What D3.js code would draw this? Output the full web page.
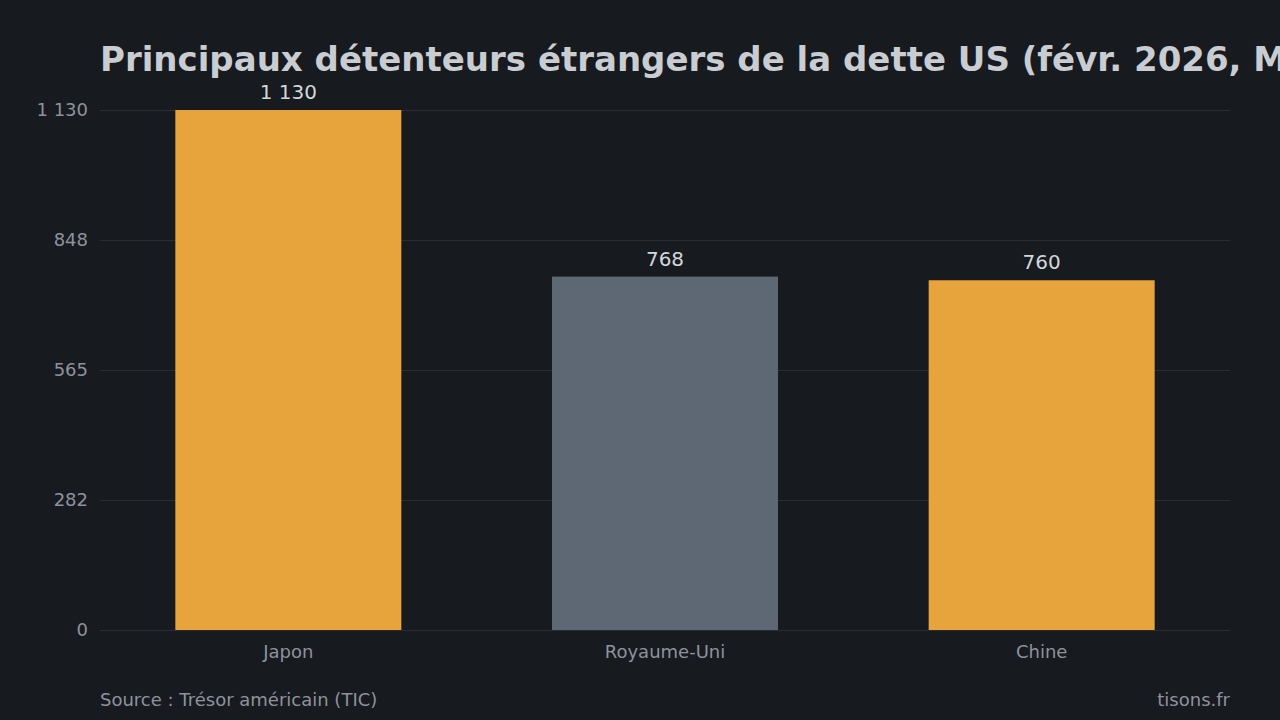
<!DOCTYPE html>
<html><head><meta charset="utf-8">
<script src="https://cdn.jsdelivr.net/npm/d3@7"></script>
<style>
html,body{margin:0;padding:0;background:#171a1f;overflow:hidden}
svg{display:block;font-family:"DejaVu Sans",sans-serif}
</style></head>
<body>
<svg id="chart" width="1280" height="720"></svg>
<script>
const categories = ["Japon", "Royaume-Uni", "Chine"];
const values = [1130, 768, 760];
const barColors = ["#e8a43c", "#5d6874", "#e8a43c"];
const valueLabels = ["1 130", "768", "760"];
const tickValues = [0, 282.5, 565, 847.5, 1130];
const tickLabels = ["0", "282", "565", "848", "1 130"];
const title = "Principaux détenteurs étrangers de la dette US (févr. 2026, Md$)";
const source = "Source : Trésor américain (TIC)";
const credit = "tisons.fr";

const W = 1280, H = 720;
const m = {left: 100, right: 50, top: 110, bottom: 90};
const svg = d3.select("#chart");
svg.append("rect").attr("width", W).attr("height", H).attr("fill", "#171a1f");

const x = d3.scaleBand().domain(categories).range([m.left, W - m.right]).paddingInner(0.4).paddingOuter(0.2);
const y = d3.scaleLinear().domain([0, 1130]).range([H - m.bottom, m.top]);

// grid
svg.append("g").selectAll("line").data(tickValues).join("line")
  .attr("x1", m.left).attr("x2", W - m.right)
  .attr("y1", d => Math.round(y(d)) + 0.5).attr("y2", d => Math.round(y(d)) + 0.5)
  .attr("stroke", "#2a2d33").attr("stroke-width", 1);

// y axis
const yAxis = d3.axisLeft(y).tickValues(tickValues).tickFormat((d, i) => tickLabels[i]).tickSize(0).tickPadding(12);
const gy = svg.append("g").attr("transform", `translate(${m.left},0)`).call(yAxis);
gy.select(".domain").remove();
gy.selectAll("text").attr("fill", "#8e939b").attr("font-size", 18).attr("font-family", "DejaVu Sans");

// bars
svg.append("g").selectAll("rect").data(values).join("rect")
  .attr("x", (d, i) => x(categories[i])).attr("width", x.bandwidth())
  .attr("y", d => y(d)).attr("height", d => y(0) - y(d))
  .attr("fill", (d, i) => barColors[i]);

// value labels
svg.append("g").selectAll("text").data(values).join("text")
  .attr("x", (d, i) => x(categories[i]) + x.bandwidth() / 2)
  .attr("y", d => y(d) - 11)
  .attr("text-anchor", "middle").attr("fill", "#d3d6db").attr("font-size", 20)
  .text((d, i) => valueLabels[i]);

// x axis
const xAxis = d3.axisBottom(x).tickSize(0).tickPadding(15);
const gx = svg.append("g").attr("transform", `translate(0,${H - m.bottom})`).call(xAxis);
gx.select(".domain").remove();
gx.selectAll("text").attr("fill", "#8e939b").attr("font-size", 18).attr("font-family", "DejaVu Sans");

// title
svg.append("text").attr("x", 100).attr("y", 71).attr("fill", "#c9ccd1")
  .attr("font-size", 34).attr("font-weight", "bold").text(title);

// footer
svg.append("text").attr("x", 100).attr("y", 706).attr("fill", "#8e939b").attr("font-size", 18).text(source);
svg.append("text").attr("x", W - m.right).attr("y", 706).attr("text-anchor", "end").attr("fill", "#8e939b").attr("font-size", 18).text(credit);
</script>
</body></html>
